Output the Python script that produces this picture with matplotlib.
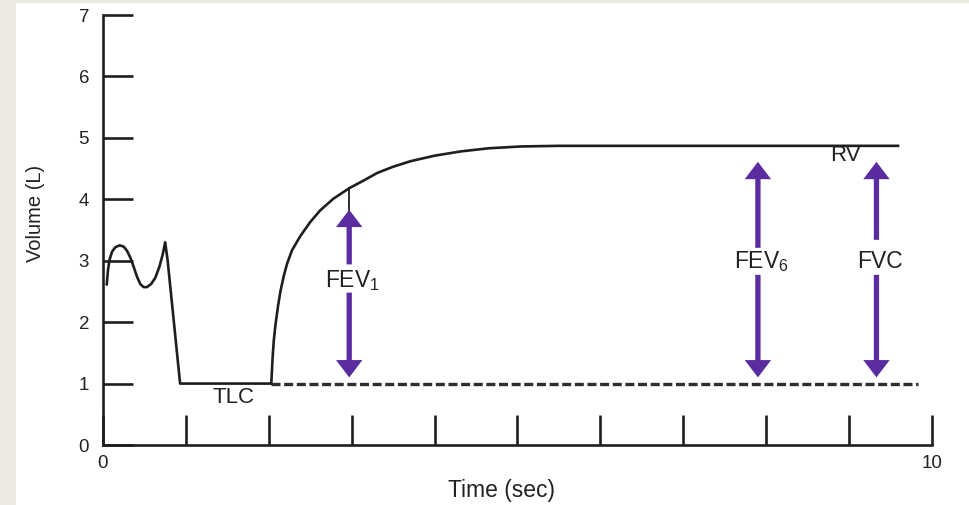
import matplotlib
matplotlib.use("Agg")
import matplotlib.pyplot as plt
from matplotlib.patches import FancyArrowPatch, Rectangle

plt.rcParams['font.family'] = ['Liberation Sans', 'DejaVu Sans']
plt.rcParams['mathtext.fontset'] = 'custom'
plt.rcParams['mathtext.rm'] = 'Liberation Sans'
plt.rcParams['lines.scale_dashes'] = False

# ---- data ----
# tidal breathing then full inspiration to TLC
breath_t = [0.045, 0.06, 0.08, 0.11, 0.15, 0.20, 0.25, 0.29, 0.33, 0.37, 0.41, 0.45,
            0.49, 0.53, 0.58, 0.63, 0.68, 0.72, 0.75, 0.78, 0.93, 2.03]
breath_v = [2.61, 2.85, 3.02, 3.15, 3.22, 3.25, 3.23, 3.16, 3.05, 2.90, 2.74, 2.62,
            2.57, 2.57, 2.62, 2.72, 2.90, 3.10, 3.30, 3.00, 1.00, 1.00]
# forced expiration
exp_t = [2.03, 2.045, 2.06, 2.08, 2.11, 2.14, 2.18, 2.22, 2.28, 2.38, 2.50, 2.62, 2.78,
         2.97, 3.15, 3.31, 3.50, 3.71, 4.00, 4.32, 4.65, 5.04, 5.50, 9.59]
exp_v = [1.00, 1.40, 1.70, 1.95, 2.25, 2.50, 2.75, 2.95, 3.17, 3.40, 3.63, 3.82, 4.01,
         4.18, 4.31, 4.43, 4.53, 4.62, 4.71, 4.78, 4.83, 4.86, 4.87, 4.87]
# baseline (dashed)
base_t = [2.03, 9.83]
base_v = [1.00, 1.00]

arrow_labels = ['FEV$_{\\mathregular{1}}$', 'FEV$_{\\mathregular{6}}$', 'FVC']
arrow_x = [2.97, 7.90, 9.33]
arrow_top = [3.83, 4.61, 4.61]
arrow_bottom = [1.10, 1.10, 1.10]
shaft_upper_start = [2.94, 3.21, 3.34]
shaft_lower_start = [2.48, 2.77, 2.77]
label_y = [2.67, 2.99, 2.99]
fev1_link = [3.83, 4.18]

text_labels = ['TLC', 'RV']
text_x = [1.57, 8.96]
text_y = [0.78, 4.72]

y_ticks = [0, 1, 2, 3, 4, 5, 6, 7]
x_ticks = [0, 1, 2, 3, 4, 5, 6, 7, 8, 9, 10]
x_ticklabels = ['0', '', '', '', '', '', '', '', '', '', '10']

purple = '#5a2ca0'
ink = '#1e1e1e'
txt = '#222222'

fig = plt.figure(figsize=(9.70, 5.05), dpi=100)
fig.patch.set_facecolor('white')
beige = '#ece9e3'
fig.patches.append(Rectangle((0, 0), 16 / 970, 1, transform=fig.transFigure,
                             facecolor=beige, edgecolor='none', zorder=0))
fig.patches.append(Rectangle((0, 1 - 3 / 505), 1, 3 / 505, transform=fig.transFigure,
                             facecolor=beige, edgecolor='none', zorder=0))

ax = fig.add_axes([103 / 970, 60 / 505, 829 / 970, 430 / 505])
ax.set_facecolor('none')
ax.set_xlim(0, 10)
ax.set_ylim(0, 7)

ax.plot(breath_t, breath_v, color=ink, lw=1.9, solid_joinstyle='round', solid_capstyle='round')
ax.plot(exp_t, exp_v, color=ink, lw=1.9, solid_joinstyle='round')
ax.plot(base_t, base_v, color='#2e2e2e', lw=2.4, dashes=(6.5, 2.6))

for i, lab in enumerate(arrow_labels):
    x = arrow_x[i]
    for start, end in ((shaft_upper_start[i], arrow_top[i]),
                       (shaft_lower_start[i], arrow_bottom[i])):
        ar = FancyArrowPatch((x, start), (x, end),
                             arrowstyle='simple,head_width=19,head_length=12.5,tail_width=3.8',
                             mutation_scale=1, shrinkA=0, shrinkB=0,
                             color=purple, lw=0, zorder=3)
        ax.add_patch(ar)
    ax.text(x + 0.04, label_y[i], lab, ha='center', va='center',
            fontsize=16.5, color=txt)

ax.plot([arrow_x[0], arrow_x[0]], fev1_link, color=ink, lw=1.3)

for lab, x, y in zip(text_labels, text_x, text_y):
    ax.text(x, y, lab, ha='center', va='center', fontsize=16, color=txt)

for s in ('top', 'right'):
    ax.spines[s].set_visible(False)
for s in ('left', 'bottom'):
    ax.spines[s].set_linewidth(1.9)
    ax.spines[s].set_color(ink)

ax.set_yticks(y_ticks)
ax.set_yticklabels([str(v) for v in y_ticks])
ax.set_xticks(x_ticks)
ax.set_xticklabels(x_ticklabels)
ax.tick_params(axis='both', direction='in', length=21.6, width=1.9, color=ink,
               labelsize=13.5, labelcolor=txt)
ax.tick_params(axis='y', pad=10)
ax.tick_params(axis='x', pad=7.5)

fig.text(501 / 970, 1 - 490 / 505, 'Time (sec)', ha='center', va='center',
         fontsize=16.5, color=txt)
fig.text(36 / 970, 1 - 213 / 505, 'Volume (L)', ha='center', va='center',
         rotation=90, fontsize=14.5, color=txt)

fig.savefig('out.png', dpi=100)
